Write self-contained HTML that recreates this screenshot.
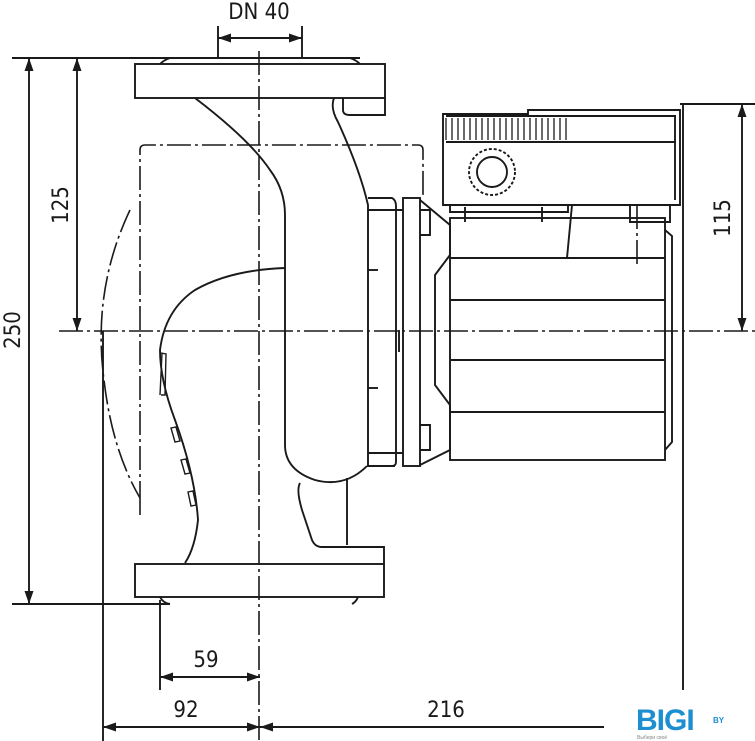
<!DOCTYPE html>
<html><head><meta charset="utf-8"><style>
html,body{margin:0;padding:0;background:#fff;width:755px;height:741px;overflow:hidden}
svg{display:block}
text{font-family:"DejaVu Sans Condensed","Liberation Sans",sans-serif;font-size:22px;fill:#1a1a1a}
</style></head><body>
<svg width="755" height="741" viewBox="0 0 755 741" xmlns="http://www.w3.org/2000/svg">
<defs>
<marker id="a" markerWidth="13" markerHeight="9" refX="13" refY="4.5" orient="auto" markerUnits="userSpaceOnUse"><path d="M0,0 L13,4.5 L0,9 Z" fill="#1a1a1a"/></marker>
<marker id="b" markerWidth="13" markerHeight="9" refX="0" refY="4.5" orient="auto" markerUnits="userSpaceOnUse"><path d="M13,0 L0,4.5 L13,9 Z" fill="#1a1a1a"/></marker>
</defs>
<g stroke="#1a1a1a" stroke-width="1.9" fill="none">
<g stroke-dasharray="24,4,3,4" stroke-width="1.6">
<line x1="259" y1="51" x2="259" y2="741"/>
<line x1="59" y1="331" x2="755" y2="331"/>
<path d="M140,505 V150 Q140,145 145,145 H418 Q423,145 423,150 V195"/>
<line x1="140" y1="505" x2="140" y2="515"/>
<path d="M130,210 Q92,290 104,380 Q112,450 140,498"/>
<line x1="637" y1="205" x2="637" y2="265"/>
</g>
<line x1="12" y1="58" x2="360" y2="58"/>
<line x1="12" y1="604" x2="170" y2="604"/>
<line x1="218" y1="26" x2="218" y2="58"/>
<line x1="302" y1="26" x2="302" y2="58"/>
<line x1="680" y1="104" x2="755" y2="104"/>
<line x1="103" y1="331" x2="103" y2="741"/>
<line x1="160" y1="600" x2="160" y2="690"/>
<line x1="683" y1="104" x2="683" y2="690"/>
<line x1="218" y1="38" x2="302" y2="38" marker-start="url(#b)" marker-end="url(#a)"/>
<line x1="29" y1="58" x2="29" y2="604" marker-start="url(#b)" marker-end="url(#a)"/>
<line x1="77" y1="58" x2="77" y2="331" marker-start="url(#b)" marker-end="url(#a)"/>
<line x1="742" y1="104" x2="742" y2="331" marker-start="url(#b)" marker-end="url(#a)"/>
<line x1="160" y1="677" x2="260" y2="677" marker-start="url(#b)" marker-end="url(#a)"/>
<line x1="103" y1="727" x2="260" y2="727" marker-start="url(#b)" marker-end="url(#a)"/>
<line x1="260" y1="727" x2="604" y2="727" marker-start="url(#b)"/>
<rect x="135" y="64" width="250" height="34"/>
<path d="M343,98 L343,110 Q343,115 350,115 H385 V98"/>
<path d="M160,64 Q164,60 170,58 M350,58 Q356,60 360,64"/>
<rect x="135" y="564" width="249" height="33"/>
<path d="M160,597 Q163,603 170,604 M352,604 Q356,602 358,597"/>
<path d="M195,98 Q250,140 270,170 Q285,190 285,215 V445 Q285,470 315,480 Q345,488 367,466"/>
<path d="M334,98 Q330,108 338,122 Q360,170 368,205 V466 L395,466"/>
<path d="M285,268 Q230,270 195,290 Q165,310 160,350 Q160,380 175,420 Q195,475 198,520 Q195,548 185,563"/>
<path d="M300,483 Q296,490 302,510 L312,540 Q315,547 322,547 H384 V564"/>
<line x1="347" y1="478" x2="347" y2="545"/>
<path d="M162,353 L160,395 M161,353 l5,1 L165,395 l-4,0" stroke-width="1.4"/>
<path d="M171,428 l5,-1 l4,14 l-5,1 Z M181,460 l5,-1 l4,14 l-5,1 Z M188,492 l5,-1 l3,14 l-5,1 Z" stroke-width="1.4"/>
<path d="M368,198 H392 Q396,200 396,206 V462 Q396,466 392,466 H368"/>
<line x1="368" y1="210" x2="403" y2="210"/>
<line x1="368" y1="270" x2="378" y2="270"/>
<line x1="368" y1="388" x2="378" y2="388"/>
<line x1="368" y1="453" x2="403" y2="453"/>
<rect x="403" y="198" width="17" height="268"/>
<path d="M420,200 L450,225 V255 L435,275 V385 L450,405 V450 L420,465"/>
<path d="M420,210 H430 V235 H420 M420,425 H430 V450 H420"/>
<line x1="399" y1="330" x2="399" y2="352"/>
<rect x="450" y="218" width="215" height="242"/>
<line x1="450" y1="258" x2="665" y2="258"/>
<line x1="450" y1="300" x2="665" y2="300"/>
<line x1="450" y1="360" x2="665" y2="360"/>
<line x1="450" y1="412" x2="665" y2="412"/>
<path d="M665,230 L672,236 V442 L665,450"/>
<line x1="572" y1="205" x2="567" y2="258"/>
<path d="M443,114 H528 V110 H680 V205 H443 Z"/>
<line x1="446" y1="116" x2="676" y2="116"/>
<line x1="446" y1="142" x2="676" y2="142"/>
<line x1="675" y1="116" x2="675" y2="200"/>
<path d="M446,118 V140 M452,118 V140 M458,118 V140 M464,118 V140 M470,118 V140 M476,118 V140 M482,118 V140 M488,118 V140 M494,118 V140 M500,118 V140 M506,118 V140 M512,118 V140 M518,118 V140 M524,118 V140 M530,118 V140 M536,118 V140 M542,118 V140 M548,118 V140 M554,118 V140 M560,118 V140 M566,118 V140" stroke-width="1.3"/>
<circle cx="492" cy="172" r="23" stroke-dasharray="3,2"/>
<circle cx="492" cy="172" r="15"/>
<path d="M450,205 V212 H568 V205 M630,205 V222 H670 V205"/>
<line x1="465" y1="207" x2="465" y2="222"/>
<line x1="542" y1="207" x2="542" y2="222"/>
</g>
<text x="259" y="19" text-anchor="middle">DN 40</text>
<text transform="translate(20,330) rotate(-90)" text-anchor="middle">250</text>
<text transform="translate(68,205) rotate(-90)" text-anchor="middle">125</text>
<text transform="translate(730,218) rotate(-90)" text-anchor="middle">115</text>
<text x="206" y="667" text-anchor="middle">59</text>
<text x="186" y="717" text-anchor="middle">92</text>
<text x="446" y="717" text-anchor="middle">216</text>
<text x="636" y="730" style="font-family:'Liberation Sans',sans-serif;font-weight:bold;font-size:30px;fill:#1d8fd0;letter-spacing:-1px">BIGI</text>
<text x="713" y="723" style="font-family:'Liberation Sans',sans-serif;font-weight:bold;font-size:8px;fill:#1d8fd0">BY</text>
<text x="637" y="739" style="font-family:'Liberation Sans',sans-serif;font-size:5px;fill:#888">Выбери своё</text>
</svg>
</body></html>
